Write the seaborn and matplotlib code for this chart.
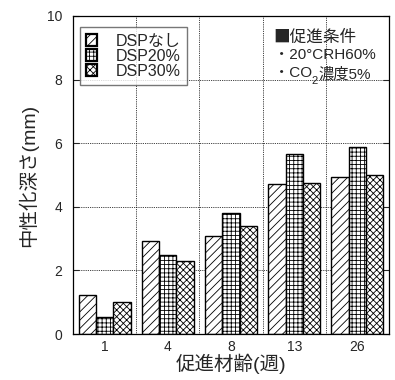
import matplotlib
matplotlib.use("Agg")
import matplotlib.pyplot as plt
import seaborn as sns
import pandas as pd
from matplotlib.patches import Patch
from matplotlib.transforms import offset_copy

weeks = ["1", "4", "8", "13", "26"]
series = ["DSPなし", "DSP20%", "DSP30%"]
dsp0 = [1.22, 2.91, 3.09, 4.72, 4.94]
dsp20 = [0.52, 2.50, 3.79, 5.66, 5.87]
dsp30 = [1.02, 2.29, 3.41, 4.75, 4.99]
hatches = ["////", "++++", "xxxxx"]

sns.set_style("white")
plt.rcParams["font.family"] = ["Liberation Sans", "Noto Sans CJK JP", "DejaVu Sans"]
plt.rcParams["hatch.linewidth"] = 0.6

rows = []
for s, vals in zip(series, [dsp0, dsp20, dsp30]):
    for w, v in zip(weeks, vals):
        rows.append({"week": w, "series": s, "depth": v})
df = pd.DataFrame(rows)

fig = plt.figure(figsize=(3.95, 3.8), dpi=100)
ax = fig.add_axes([73/395, 1-334/380, 316/395, 318/380])

sns.barplot(data=df, x="week", y="depth", hue="series", order=weeks,
            hue_order=series, palette=["white"]*3, edgecolor="black",
            linewidth=1.0, width=0.82, gap=0, legend=False, ax=ax)

for cont, h in zip(ax.containers, hatches):
    for p in cont:
        p.set_hatch(h)
        p.set_edgecolor("black")
        p.set_facecolor("white")

ax.set_xlim(-0.5, 4.5)
ax.set_ylim(0, 10)
ax.set_yticks([0, 2, 4, 6, 8, 10])
ax.set_xticks(range(5))
ax.set_xticks([0.5, 1.5, 2.5, 3.5], minor=True)
ax.tick_params(axis="x", which="major", length=0, labelsize=10, pad=4)
ax.tick_params(axis="x", which="minor", direction="in", length=4, width=0.8)
ax.tick_params(axis="y", direction="in", length=4, width=0.8, labelsize=10,
               left=True, right=True, pad=8)
ax.grid(False)
ax.xaxis.grid(True, which="minor", linestyle=(0, (1, 1.2)), color="black", linewidth=0.6)
ax.yaxis.grid(True, which="major", linestyle=(0, (1, 1.2)), color="black", linewidth=0.6)
ax.set_axisbelow(True)
for sp in ax.spines.values():
    sp.set_color("black")
    sp.set_linewidth(0.9)

ax.set_xlabel("促進材齢(週)", fontsize=14, labelpad=0)
ax.set_ylabel("中性化深さ(mm)", fontsize=14, labelpad=6)

handles = [Patch(facecolor="white", edgecolor="black", hatch=h, linewidth=1.6)
           for h in hatches]
leg = ax.legend(handles, series, loc="upper left", bbox_to_anchor=(0.022, 0.965),
                fontsize=11.5, frameon=True, fancybox=False, handlelength=0.65,
                handleheight=0.75, handletextpad=1.2, labelspacing=0.0,
                borderpad=0.4, borderaxespad=0)
leg.get_frame().set_edgecolor("#555555")
leg.get_frame().set_linewidth(1.0)

cjk = ["Noto Sans CJK JP", "DejaVu Sans"]
ax.text(0.635, 0.96, "■促進条件", transform=ax.transAxes, fontsize=12,
        va="top", ha="left", family=cjk)
ax.text(0.635, 0.9, "・20°CRH60%", transform=ax.transAxes, fontsize=11,
        va="top", ha="left")

# CO2 line assembled from pieces so that the subscript sits low
fig.canvas.draw()
r = fig.canvas.get_renderer()
x0, y0 = 0.635, 0.842
t1 = ax.text(x0, y0, "・CO", transform=ax.transAxes, fontsize=11,
             va="top", ha="left")
w1 = t1.get_window_extent(r).width
t2 = ax.text(x0, y0, "2", transform=offset_copy(ax.transAxes, fig=fig, x=w1*72/100, y=-7, units="points"),
             fontsize=8, va="top", ha="left")
w2 = t2.get_window_extent(r).width
t3 = ax.text(x0, y0, "濃度5%", transform=offset_copy(ax.transAxes, fig=fig, x=(w1+w2)*72/100, y=0, units="points"),
             fontsize=11, va="top", ha="left")

fig.savefig("out.png", dpi=100)
